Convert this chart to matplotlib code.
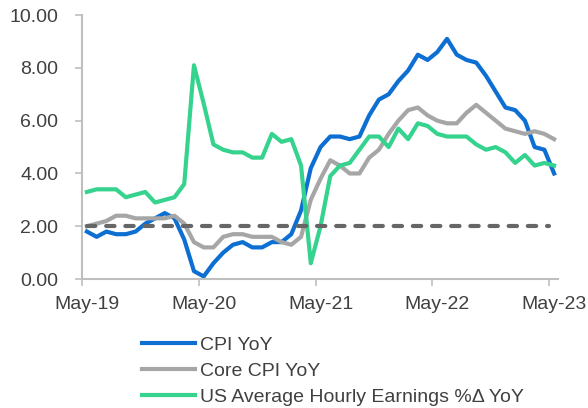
import matplotlib
matplotlib.use("Agg")
import matplotlib.pyplot as plt
from matplotlib.ticker import FixedLocator

plt.rcParams['font.family'] = ['Liberation Sans', 'DejaVu Sans']

# monthly, May-19 .. May-23
cpi = [1.8, 1.6, 1.8, 1.7, 1.7, 1.8, 2.1, 2.3, 2.5, 2.3, 1.5, 0.3,
       0.1, 0.6, 1.0, 1.3, 1.4, 1.2, 1.2, 1.4, 1.4, 1.7, 2.6, 4.2,
       5.0, 5.4, 5.4, 5.3, 5.4, 6.2, 6.8, 7.0, 7.5, 7.9, 8.5, 8.3,
       8.6, 9.1, 8.5, 8.3, 8.2, 7.7, 7.1, 6.5, 6.4, 6.0, 5.0, 4.9,
       4.0]
core_cpi = [2.0, 2.1, 2.2, 2.4, 2.4, 2.3, 2.3, 2.3, 2.3, 2.4, 2.1, 1.4,
            1.2, 1.2, 1.6, 1.7, 1.7, 1.6, 1.6, 1.6, 1.4, 1.3, 1.6, 3.0,
            3.8, 4.5, 4.3, 4.0, 4.0, 4.6, 4.9, 5.5, 6.0, 6.4, 6.5, 6.2,
            6.0, 5.9, 5.9, 6.3, 6.6, 6.3, 6.0, 5.7, 5.6, 5.5, 5.6, 5.5,
            5.3]
ahe = [3.3, 3.4, 3.4, 3.4, 3.1, 3.2, 3.3, 2.9, 3.0, 3.1, 3.6, 8.1,
       6.65, 5.1, 4.9, 4.8, 4.8, 4.6, 4.6, 5.5, 5.2, 5.3, 4.3, 0.6,
       2.0, 3.9, 4.3, 4.4, 4.9, 5.4, 5.4, 5.0, 5.7, 5.3, 5.9, 5.8,
       5.5, 5.4, 5.4, 5.4, 5.1, 4.9, 5.0, 4.8, 4.4, 4.7, 4.3, 4.4,
       4.3]
target = 2.0
x_labels = ["May-19", "May-20", "May-21", "May-22", "May-23"]
y_ticks = [0, 2, 4, 6, 8, 10]

n = len(cpi)
x = list(range(n))
text_col = "#404040"
axis_col = "#BFBFBF"

fig = plt.figure(figsize=(5.88, 4.08), dpi=100)
ax = fig.add_axes([0.1395, 0.316, 0.8095, 0.647])

ax.plot(x, cpi, color="#0E6FD2", lw=3, label="CPI YoY", solid_joinstyle="round")
ax.plot(x, core_cpi, color="#A6A6A6", lw=3, label="Core CPI YoY", solid_joinstyle="round")
ax.plot(x, ahe, color="#36D38F", lw=3, label="US Average Hourly Earnings %\u0394 YoY",
        solid_joinstyle="round")
ax.plot([0, n - 1.5], [target, target], color="#666666", lw=3,
        dashes=(2.0, 2.6), dash_capstyle="round")

ax.set_xlim(-0.5, 48.4)
ax.set_ylim(0, 10)

# tick marks between categories, labels on the categories
ax.xaxis.set_major_locator(FixedLocator([12 * k - 0.5 for k in range(5)]))
ax.xaxis.set_major_formatter(plt.NullFormatter())
ax.xaxis.set_minor_locator(FixedLocator([12 * k for k in range(5)]))
ax.set_xticklabels(x_labels, minor=True)
ax.tick_params(axis="x", which="major", length=5, width=1.2, color=axis_col)
ax.tick_params(axis="x", which="minor", length=0, pad=12, labelsize=14, labelcolor=text_col)

ax.set_yticks(y_ticks)
ax.set_yticklabels([f"{v:.2f}" for v in y_ticks])
ax.tick_params(axis="y", length=5, width=1.2, color=axis_col, labelsize=14,
               labelcolor=text_col, pad=12)

for s in ["top", "right"]:
    ax.spines[s].set_visible(False)
for s in ["left", "bottom"]:
    ax.spines[s].set_color(axis_col)
    ax.spines[s].set_linewidth(1.5)

h, l = ax.get_legend_handles_labels()
leg = fig.legend(h[:3], l[:3], loc="upper left", bbox_to_anchor=(0.2415, 0.175),
                 frameon=False, fontsize=14, handlelength=2.7, handletextpad=0.3,
                 labelspacing=0.42, borderpad=0, borderaxespad=0)
for t in leg.get_texts():
    t.set_color(text_col)

fig.savefig("out.png", dpi=100)
